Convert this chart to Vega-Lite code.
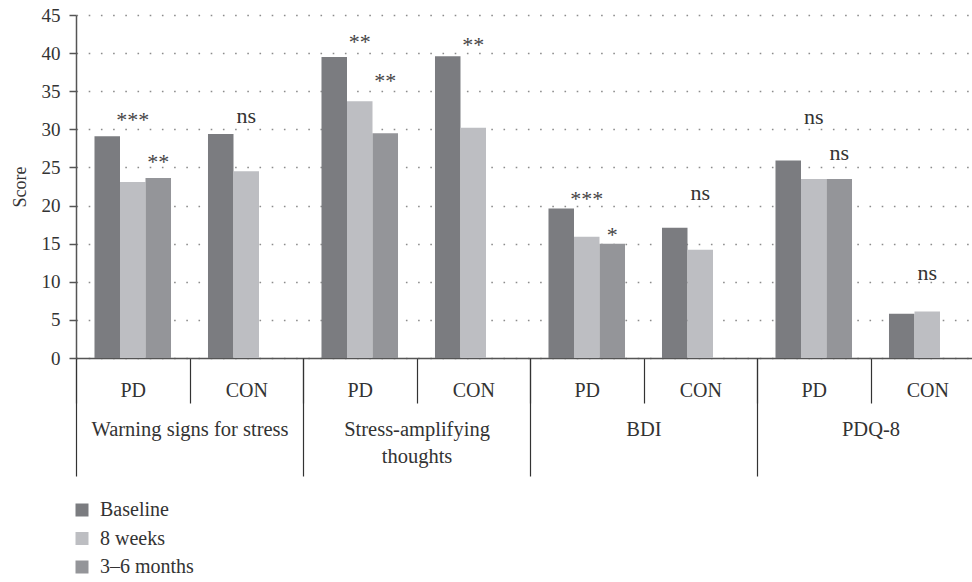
{
  "$schema": "https://vega.github.io/schema/vega-lite/v6.json",
  "width": 896,
  "height": 343,
  "autosize": {"type": "none"},
  "padding": {"left": 76, "top": 15, "right": 0, "bottom": 224},
  "config": {
    "font": "Liberation Serif",
    "view": {"stroke": null},
    "axis": {
      "labelFont": "Liberation Serif",
      "titleFont": "Liberation Serif",
      "labelColor": "#333333",
      "titleColor": "#333333",
      "domainColor": "#555555",
      "tickColor": "#444444"
    },
    "legend": {"labelFont": "Liberation Serif"}
  },
  "datasets": {
    "bars": [
      {"group": "Warning signs for stress|PD", "timepoint": "Baseline", "score": 29.1},
      {"group": "Warning signs for stress|PD", "timepoint": "8 weeks", "score": 23.1},
      {"group": "Warning signs for stress|PD", "timepoint": "3–6 months", "score": 23.6},
      {"group": "Warning signs for stress|CON", "timepoint": "Baseline", "score": 29.4},
      {"group": "Warning signs for stress|CON", "timepoint": "8 weeks", "score": 24.5},
      {"group": "Stress-amplifying thoughts|PD", "timepoint": "Baseline", "score": 39.5},
      {"group": "Stress-amplifying thoughts|PD", "timepoint": "8 weeks", "score": 33.7},
      {"group": "Stress-amplifying thoughts|PD", "timepoint": "3–6 months", "score": 29.5},
      {"group": "Stress-amplifying thoughts|CON", "timepoint": "Baseline", "score": 39.6},
      {"group": "Stress-amplifying thoughts|CON", "timepoint": "8 weeks", "score": 30.2},
      {"group": "BDI|PD", "timepoint": "Baseline", "score": 19.6},
      {"group": "BDI|PD", "timepoint": "8 weeks", "score": 15.9},
      {"group": "BDI|PD", "timepoint": "3–6 months", "score": 15.0},
      {"group": "BDI|CON", "timepoint": "Baseline", "score": 17.1},
      {"group": "BDI|CON", "timepoint": "8 weeks", "score": 14.2},
      {"group": "PDQ-8|PD", "timepoint": "Baseline", "score": 25.9},
      {"group": "PDQ-8|PD", "timepoint": "8 weeks", "score": 23.5},
      {"group": "PDQ-8|PD", "timepoint": "3–6 months", "score": 23.5},
      {"group": "PDQ-8|CON", "timepoint": "Baseline", "score": 5.8},
      {"group": "PDQ-8|CON", "timepoint": "8 weeks", "score": 6.1}
    ],
    "sig": [
      {"group": "Warning signs for stress|PD", "timepoint": "8 weeks", "pos": 31.8, "label": "***"},
      {"group": "Warning signs for stress|PD", "timepoint": "3–6 months", "pos": 26.2, "label": "**"},
      {"group": "Warning signs for stress|CON", "timepoint": "8 weeks", "pos": 31.8, "label": "ns"},
      {"group": "Stress-amplifying thoughts|PD", "timepoint": "8 weeks", "pos": 42.0, "label": "**"},
      {"group": "Stress-amplifying thoughts|PD", "timepoint": "3–6 months", "pos": 36.9, "label": "**"},
      {"group": "Stress-amplifying thoughts|CON", "timepoint": "8 weeks", "pos": 41.6, "label": "**"},
      {"group": "BDI|PD", "timepoint": "8 weeks", "pos": 21.4, "label": "***"},
      {"group": "BDI|PD", "timepoint": "3–6 months", "pos": 16.7, "label": "*"},
      {"group": "BDI|CON", "timepoint": "8 weeks", "pos": 21.6, "label": "ns"},
      {"group": "PDQ-8|PD", "timepoint": "8 weeks", "pos": 31.6, "label": "ns"},
      {"group": "PDQ-8|PD", "timepoint": "3–6 months", "pos": 26.9, "label": "ns"},
      {"group": "PDQ-8|CON", "timepoint": "8 weeks", "pos": 11.2, "label": "ns"}
    ],
    "measures": [
      {"measure": "Warning signs for stress"},
      {"measure": "Stress-amplifying thoughts"},
      {"measure": "BDI"},
      {"measure": "PDQ-8"}
    ]
  },
  "layer": [
    {
      "encoding": {
        "x": {
          "field": "group", "type": "nominal",
          "scale": {
            "domain": ["Warning signs for stress|PD", "Warning signs for stress|CON", "Stress-amplifying thoughts|PD", "Stress-amplifying thoughts|CON", "BDI|PD", "BDI|CON", "PDQ-8|PD", "PDQ-8|CON"],
            "range": [0, 908], "paddingInner": 0, "paddingOuter": 0
          },
          "axis": {
            "title": null,
            "labelExpr": "split(datum.value, '|')[1]",
            "labelFont": "Liberation Serif",
            "labelAngle": 0,
            "labelFontSize": 20,
            "labelBaseline": "middle",
            "labelPadding": -13,
            "labelOverlap": false,
            "tickBand": "extent",
            "tickSize": 45,
            "tickWidth": 1.2,
            "tickColor": "#333333",
            "domainWidth": 1.5,
            "domainColor": "#555555",
            "grid": false
          }
        },
        "xOffset": {
          "field": "timepoint", "type": "nominal",
          "scale": {"domain": ["Baseline", "8 weeks", "3–6 months"], "paddingInner": 0, "paddingOuter": 0.725}
        }
      },
      "layer": [
        {
          "data": {"name": "bars"},
          "mark": {"type": "bar"},
          "encoding": {
            "y": {
              "field": "score", "type": "quantitative", "title": "Score",
              "scale": {"domain": [0, 45], "nice": false},
              "axis": {
                "values": [0, 5, 10, 15, 20, 25, 30, 35, 40, 45],
                "labelOverlap": false,
                "labelFont": "Liberation Serif",
                "titleFont": "Liberation Serif",
                "labelFontSize": 19,
                "titleFontSize": 18,
                "titleFontWeight": "normal",
                "titlePadding": 12,
                "tickSize": 7,
                "tickWidth": 1.5,
                "tickColor": "#555555",
                "labelPadding": 9,
                "domainWidth": 1.5,
                "domainColor": "#555555",
                "grid": true,
                "gridDash": [1.6, 10.6],
                "gridColor": "#8c8c8c",
                "gridWidth": 1.6
              }
            },
            "color": {
              "field": "timepoint", "type": "nominal",
              "scale": {"domain": ["Baseline", "8 weeks", "3–6 months"], "range": ["#7b7c80", "#bdbec2", "#949599"]},
              "legend": {
                "title": null,
                "orient": "none",
                "legendX": -4,
                "legendY": 485,
                "direction": "vertical",
                "symbolType": "square",
                "symbolSize": 169,
                "symbolStrokeWidth": 0,
                "labelFont": "Liberation Serif",
                "labelFontSize": 20,
                "labelColor": "#333333",
                "labelOffset": 8,
                "rowPadding": 8.5
              }
            }
          }
        },
        {
          "data": {"name": "sig"},
          "transform": [{"filter": "datum.label == 'ns'"}],
          "mark": {"type": "text", "fontSize": 22, "color": "#333333", "baseline": "middle", "font": "Liberation Serif"},
          "encoding": {
            "y": {
              "field": "pos", "type": "quantitative", "title": "Score",
              "scale": {"domain": [0, 45], "nice": false},
              "axis": {
                "values": [0, 5, 10, 15, 20, 25, 30, 35, 40, 45],
                "labelOverlap": false,
                "labelFont": "Liberation Serif",
                "titleFont": "Liberation Serif",
                "labelFontSize": 19,
                "titleFontSize": 18,
                "titleFontWeight": "normal",
                "titlePadding": 12,
                "tickSize": 7,
                "tickWidth": 1.5,
                "tickColor": "#555555",
                "labelPadding": 9,
                "domainWidth": 1.5,
                "domainColor": "#555555",
                "grid": true,
                "gridDash": [1.6, 10.6],
                "gridColor": "#8c8c8c",
                "gridWidth": 1.6
              }
            },
            "text": {"field": "label"}
          }
        },
        {
          "data": {"name": "sig"},
          "transform": [{"filter": "datum.label != 'ns'"}],
          "mark": {"type": "text", "fontSize": 22, "color": "#444444", "baseline": "middle", "dy": 4, "font": "Liberation Serif"},
          "encoding": {
            "y": {
              "field": "pos", "type": "quantitative", "title": "Score",
              "scale": {"domain": [0, 45], "nice": false},
              "axis": {
                "values": [0, 5, 10, 15, 20, 25, 30, 35, 40, 45],
                "labelOverlap": false,
                "labelFont": "Liberation Serif",
                "titleFont": "Liberation Serif",
                "labelFontSize": 19,
                "titleFontSize": 18,
                "titleFontWeight": "normal",
                "titlePadding": 12,
                "tickSize": 7,
                "tickWidth": 1.5,
                "tickColor": "#555555",
                "labelPadding": 9,
                "domainWidth": 1.5,
                "domainColor": "#555555",
                "grid": true,
                "gridDash": [1.6, 10.6],
                "gridColor": "#8c8c8c",
                "gridWidth": 1.6
              }
            },
            "text": {"field": "label"}
          }
        }
      ]
    },
    {
      "data": {"name": "measures"},
      "mark": {"type": "point", "opacity": 0},
      "encoding": {
        "x": {
          "field": "measure", "type": "nominal",
          "scale": {
            "domain": ["Warning signs for stress", "Stress-amplifying thoughts", "BDI", "PDQ-8"],
            "range": [0, 908], "paddingInner": 0, "paddingOuter": 0
          },
          "axis": {
            "title": null,
            "orient": "bottom",
            "domain": false,
            "grid": false,
            "tickBand": "extent",
            "tickSize": 118,
            "tickWidth": 1.2,
            "tickColor": "#333333",
            "labelFont": "Liberation Serif",
            "labelAngle": 0,
            "labelFontSize": 20.5,
            "labelBaseline": "top",
            "labelPadding": -57,
            "labelLineHeight": 27,
            "labelLimit": 300,
            "labelOverlap": false,
            "labelExpr": "datum.value == 'Stress-amplifying thoughts' ? ['Stress-amplifying', 'thoughts'] : datum.value"
          }
        }
      }
    }
  ],
  "resolve": {"scale": {"x": "independent"}, "axis": {"x": "independent"}}
}
